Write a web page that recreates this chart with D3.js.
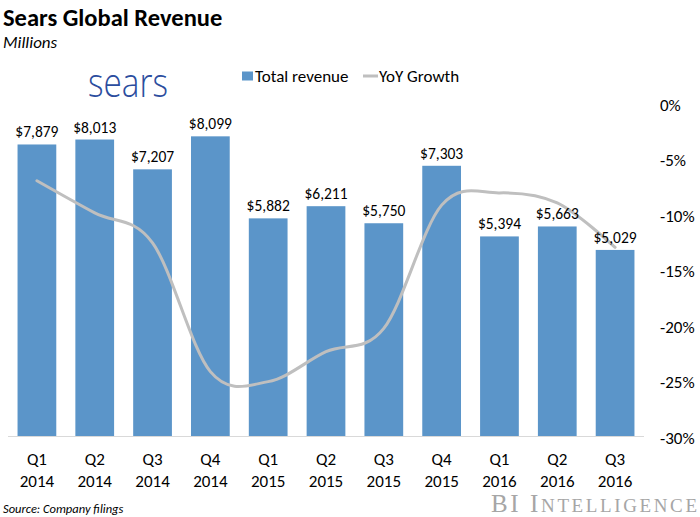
<!DOCTYPE html>
<html>
<head>
<meta charset="utf-8">
<script src="https://cdn.jsdelivr.net/npm/d3@7"></script>
<style>
  body { margin: 0; background: #fff; }
  text { font-family: Carlito, Calibri, "Open Sans", sans-serif; fill: #000; }
</style>
</head>
<body>
<svg id="chart" width="700" height="517"></svg>
<script>
// chart data
var quarters = ["Q1", "Q2", "Q3", "Q4", "Q1", "Q2", "Q3", "Q4", "Q1", "Q2", "Q3"];
var years = ["2014", "2014", "2014", "2014", "2015", "2015", "2015", "2015", "2016", "2016", "2016"];
var revenue = [7879, 8013, 7207, 8099, 5882, 6211, 5750, 7303, 5394, 5663, 5029];
var growth = [-7.0, -9.9, -12.6, -24.2, -25.1, -22.4, -20.3, -9.2, -8.1, -9.0, -13.0];
var pctTicks = [0, -5, -10, -15, -20, -25, -30];

var svg = d3.select("#chart");

var barColor = "#5b95c9",
    lineColor = "#bfbfbf";

var keys = quarters.map(function (q, i) { return i; });

var x = d3.scaleBand()
    .domain(keys)
    .range([8, 644])
    .paddingInner(0.33)
    .paddingOuter(0.165);

var yLeft = d3.scaleLinear()
    .domain([0, 9000])
    .range([436, 103]);

var yRight = d3.scaleLinear()
    .domain([-30, 0])
    .range([436, 103]);

// title block
svg.append("text")
    .attr("x", 3).attr("y", 26)
    .style("font-size", "24.5px").style("font-weight", "bold")
    .text("Sears Global Revenue");

svg.append("text")
    .attr("x", 3).attr("y", 48)
    .style("font-size", "17px").style("font-style", "italic")
    .text("Millions");

// sears logo as text
svg.append("text")
    .attr("x", 88).attr("y", 97)
    .attr("textLength", 80)
    .attr("lengthAdjust", "spacingAndGlyphs")
    .style("font-family", "'Open Sans', sans-serif")
    .style("font-weight", 300)
    .style("font-size", "41px")
    .style("fill", "#2b4d9e")
    .text("sears");

// legend
var legend = svg.append("g").attr("class", "legend");
legend.append("rect")
    .attr("x", 242).attr("y", 71.5)
    .attr("width", 11).attr("height", 9)
    .attr("fill", barColor);
legend.append("text")
    .attr("x", 255).attr("y", 82)
    .style("font-size", "17px")
    .text("Total revenue");
legend.append("line")
    .attr("x1", 363).attr("x2", 378)
    .attr("y1", 76).attr("y2", 76)
    .attr("stroke", lineColor).attr("stroke-width", 3);
legend.append("text")
    .attr("x", 379).attr("y", 82)
    .style("font-size", "17px")
    .text("YoY Growth");

// bars
svg.append("g")
    .attr("class", "bars")
    .selectAll("rect")
    .data(revenue)
    .enter().append("rect")
    .attr("x", function (d, i) { return x(i); })
    .attr("width", x.bandwidth())
    .attr("y", function (d) { return yLeft(d); })
    .attr("height", function (d) { return yLeft(0) - yLeft(d); })
    .attr("fill", barColor);

// baseline
svg.append("line")
    .attr("x1", x.range()[0]).attr("x2", x.range()[1])
    .attr("y1", yLeft(0) + 0.5).attr("y2", yLeft(0) + 0.5)
    .attr("stroke", "#d9d9d9").attr("stroke-width", 1);

// growth line (smoothed like the Excel original)
var line = d3.line()
    .x(function (d, i) { return x(i) + x.bandwidth() / 2; })
    .y(function (d) { return yRight(d); })
    .curve(d3.curveCardinal.tension(0));

svg.append("path")
    .datum(growth)
    .attr("fill", "none")
    .attr("stroke", lineColor)
    .attr("stroke-width", 3)
    .attr("stroke-linecap", "round")
    .attr("d", line);

// value labels
svg.append("g")
    .attr("class", "values")
    .selectAll("text")
    .data(revenue)
    .enter().append("text")
    .attr("x", function (d, i) { return x(i) + x.bandwidth() / 2; })
    .attr("y", function (d) { return yLeft(d) - 7; })
    .attr("text-anchor", "middle")
    .style("font-size", "15.5px")
    .text(function (d) { return "$" + d3.format(",")(d); });

// x axis, two-line labels
var xAxis = svg.append("g")
    .attr("transform", "translate(0," + yLeft(0) + ")")
    .call(d3.axisBottom(x).tickSize(0).tickPadding(0).tickFormat(function () { return ""; }));
xAxis.select(".domain").remove();
xAxis.selectAll(".tick text").remove();
xAxis.selectAll(".tick").each(function (i) {
    var t = d3.select(this).append("text")
        .attr("text-anchor", "middle")
        .style("font-size", "17px")
        .style("fill", "#000");
    t.append("tspan").attr("x", 0).attr("y", 29).text(quarters[i]);
    t.append("tspan").attr("x", 0).attr("y", 51).text(years[i]);
});

// right axis
var rAxis = svg.append("g")
    .attr("transform", "translate(660,2)")
    .call(d3.axisRight(yRight).tickValues(pctTicks).tickSize(0).tickPadding(0)
        .tickFormat(function (d) { return d + "%"; }));
rAxis.select(".domain").remove();
rAxis.selectAll("text")
    .style("font-family", "Carlito, Calibri, sans-serif")
    .style("font-size", "17px")
    .style("fill", "#000");

// footer
svg.append("text")
    .attr("x", 3).attr("y", 513)
    .style("font-size", "12.5px").style("font-style", "italic")
    .text("Source: Company filings");

var bi = svg.append("text")
    .attr("x", 491).attr("y", 512)
    .attr("textLength", 206)
    .style("font-family", "'Liberation Serif', serif")
    .style("fill", "#a6a6a6");
bi.append("tspan").style("font-size", "25px").text("BI I");
bi.append("tspan").style("font-size", "19px").text("NTELLIGENCE");
</script>
</body>
</html>
